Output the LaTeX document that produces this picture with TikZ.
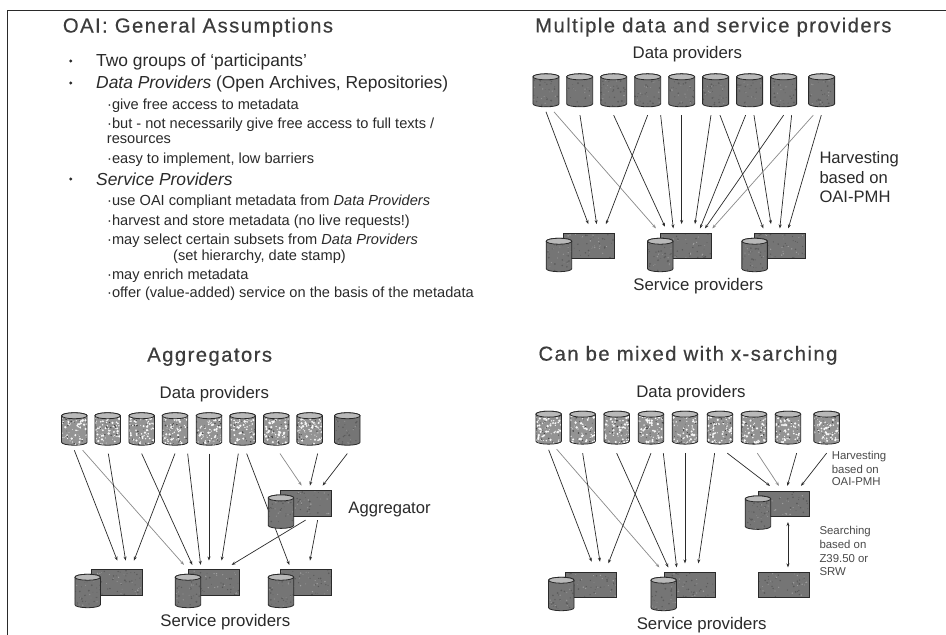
\documentclass[tikz,border=0pt]{standalone}
\usepackage{fontspec}
\setmainfont{Liberation Sans}
\newfontfamily\ttlfont[LetterSpace=7,FakeBold=0.4]{Liberation Sans}
\usetikzlibrary{arrows.meta,backgrounds,calc}
\definecolor{ink}{HTML}{2A2A2A}
\definecolor{ttlink}{HTML}{3C3C3C}
\pgfmathsetseed{4242}
\newcommand{\mottle}[6]{% centre, count, colour, half-w, half-h, max radius
  \foreach \i in {1,...,#2}{%
    \pgfmathsetmacro{\mx}{(rand)*#4}%
    \pgfmathsetmacro{\my}{(rand)*#5}%
    \pgfmathsetmacro{\mr}{0.35+rnd*#6}%
    \fill[#3] ([shift={(\mx pt,\my pt)}]#1) circle[radius=\mr pt];
  }%
}
% cylinder: name, cx, cy, width, height, kind (0 plain, 1 speckled)
\newcommand{\dbcyl}[6]{%
  \node[cylanchor,minimum width=#4pt,minimum height=#5pt] (#1) at (#2,#3) {};
  \pgfmathsetmacro{\rxx}{#4/2}%
  \def\bodypath{([yshift=-3pt]#1.north west) -- ([yshift=3pt]#1.south west)
     arc[start angle=180,end angle=360,x radius=\rxx pt,y radius=3pt]
     -- ([yshift=-3pt]#1.north east)
     arc[start angle=0,end angle=180,x radius=\rxx pt,y radius=3pt] -- cycle}%
  \ifnum#6=1 \fill[gray!85!white] \bodypath; \else \fill[gray!92!black] \bodypath; \fi
  \begin{scope}
    \clip \bodypath;
    \ifnum#6=1
      \mottle{#1.center}{75}{white!94!gray}{\rxx}{#5/2}{1.0}
      \mottle{#1.center}{22}{gray!55!black}{\rxx}{#5/2}{.6}
    \else
      \mottle{#1.center}{28}{gray!72!black}{\rxx}{#5/2}{.7}
      \mottle{#1.center}{14}{gray!85!white}{\rxx}{#5/2}{.5}
    \fi
  \end{scope}
  \draw[cylline] \bodypath;
  \draw[cylline,fill=gray!55!white] ([yshift=-3pt]#1.north) ellipse[x radius=\rxx pt,y radius=3pt];
}
\tikzset{
  ttl/.style={anchor=base,inner sep=0pt,text=ttlink,font=\ttlfont\fontsize{20.3}{20}\selectfont},
  ttlw/.style={anchor=base west,inner sep=0pt,text=ttlink,font=\ttlfont\fontsize{20.3}{20}\selectfont},
  lbl/.style={anchor=base,inner sep=0pt,text=ink,font=\fontsize{16.8}{18}\selectfont},
  lblw/.style={anchor=base west,inner sep=0pt,text=ink,font=\fontsize{16.6}{18}\selectfont},
  small/.style={anchor=base west,inner sep=0pt,text=ink!85!white,font=\fontsize{11.4}{13}\selectfont},
  bul/.style={anchor=base west,inner sep=0pt,text=ink,font=\fontsize{17.4}{18}\selectfont},
  sub/.style={anchor=base west,inner sep=0pt,text=ink,font=\fontsize{14.6}{16}\selectfont},
  dot/.style={circle,fill=ink,inner sep=0pt,minimum size=3.2pt},
  arr/.style={draw=ink,line width=.7pt,-{Stealth[length=4pt,width=3pt]}},
  arrl/.style={draw=ink!55!white,line width=.7pt,-{Stealth[length=4pt,width=3pt]}},
  arrd/.style={draw=ink,line width=.7pt,{Stealth[length=4pt,width=3pt]}-{Stealth[length=4pt,width=3pt]}},
  cylanchor/.style={inner sep=0pt,outer sep=0pt,rectangle},
  cylline/.style={draw=ink,line width=.8pt},
  srv/.style={draw=ink,line width=.8pt,fill=gray!92!black,inner sep=0pt,outer sep=0pt,
    minimum width=51pt,minimum height=25.5pt,
    path picture={\mottle{path picture bounding box.center}{30}{gray!70!black}{25}{12}{.6}\mottle{path picture bounding box.center}{20}{gray!75!white}{25}{12}{.5}}},
}
\begin{document}
\begin{tikzpicture}[x=1pt,y=-1pt]
\useasboundingbox (0,0) rectangle (946,635);
\begin{scope}[on background layer]\fill[white] (0,0) rectangle (946,635);\end{scope}
% page frame
\draw[ink,line width=.9pt] (7.5,635) -- (7.5,10.5) -- (946,10.5);

% ---------- panel 1
\node[ttlw] (t1) at (62.7,32.5) {OAI: General Assumptions};
\node[dot] (b1) at (70.7,61) {};
\node[dot] (b2) at (70.7,83) {};
\node[dot] (b3) at (70.7,179) {};
\node[bul] (p1) at (96,66) {Two groups of ‘participants’};
\node[bul] (p2) at (96,88.3) {\textit{Data Providers} (Open Archives, Repositories)};
\node[sub] (p3) at (107,109.3) {·give free access to metadata};
\node[sub] (p4) at (107,128.3) {·but - not necessarily give free access to full texts /};
\node[sub] (p5) at (106.7,143.3) {resources};
\node[sub] (p6) at (107,163.3) {·easy to implement, low barriers};
\node[bul] (p7) at (96,185) {\textit{Service Providers}};
\node[sub] (p8) at (107,205.7) {·use OAI compliant metadata from \textit{Data Providers}};
\node[sub] (p9) at (107,225) {·harvest and store metadata (no live requests!)};
\node[sub] (p10) at (107,244) {·may select certain subsets from \textit{Data Providers}};
\node[sub] (p11) at (173,260) {(set hierarchy, date stamp)};
\node[sub] (p12) at (107,279) {·may enrich metadata};
\node[sub] (p13) at (107,297.7) {·offer (value-added) service on the basis of the metadata};

% ---------- panel 2
\begin{scope}[shift={(480,0)},x=.3333pt,y=-.3333pt]
\node[ttlw] (t2) at (165,97) {Multiple data and service providers};
\node[lbl] (dl2) at (622,175) {Data providers};
\node[lbl] (sl2) at (655,873) {Service providers};
\node[lblw] (h21) at (1018,490) {Harvesting};
\node[lblw] (h22) at (1018,552) {based on};
\node[lblw] (h23) at (1018,608) {OAI-PMH};
\foreach \n/\cx in {a1/198,a2/299,a3/401,a4/503,a5/605,a6/707,a7/809,a8/911,a9/1025}
  {\dbcyl{\n}{\cx}{271}{26}{33}{0}}
\node[srv] (as1) at (326.5,738.5) {};
\node[srv] (as2) at (619,738.5) {};
\node[srv] (as3) at (899.5,738.5) {};
\dbcyl{ac1}{237}{765}{25.5}{33.5}{0}
\dbcyl{ac2}{541}{765}{25.5}{33.5}{0}
\dbcyl{ac3}{824}{765}{25.5}{33.5}{0}
\begin{scope}[on background layer]
\draw[arr] ([shift={(0,15)}]a1.south) -- ([shift={(-1.5,-28)}]as1.north);
\draw[arrl] ([shift={(24,15)}]a1.south) -- ([shift={(-91,-15)}]as2.north);
\draw[arr] ([shift={(1,25)}]a2.south) -- ([shift={(23.5,-28)}]as1.north);
\draw[arr] ([shift={(0,25)}]a3.south) -- ([shift={(-64,-20)}]as2.north);
\draw[arr] ([shift={(0,25)}]a4.south) -- ([shift={(51.5,-28)}]as1.north);
\draw[arr] ([shift={(39,25)}]a4.south) -- ([shift={(-39,-15)}]as2.north);
\draw[arr] ([shift={(0,25)}]a5.south) -- ([shift={(-14,-28)}]as2.north);
\draw[arr] ([shift={(-14,25)}]a6.south) -- ([shift={(26,-28)}]as2.north);
\draw[arr] ([shift={(13,25)}]a6.south) -- ([shift={(-49.5,-15)}]as3.north);
\draw[arr] ([shift={(-12,25)}]a7.south) -- ([shift={(41,-15)}]as2.north);
\draw[arr] ([shift={(13,25)}]a7.south) -- ([shift={(-26.5,-28)}]as3.north);
\draw[arr] ([shift={(0,25)}]a8.south) -- ([shift={(56,-15)}]as2.north);
\draw[arr] ([shift={(24,25)}]a8.south) -- ([shift={(0,-15)}]as3.north);
\draw[arrl] ([shift={(-25,25)}]a9.south) -- ([shift={(78,-15)}]as2.north);
\draw[arr] ([shift={(-1,25)}]a9.south) -- ([shift={(25.5,-15)}]as3.north);
\end{scope}
\end{scope}

% ---------- panel 3
\begin{scope}[shift={(0,320)},x=.3333pt,y=-.3333pt]
\node[ttl] (t3) at (629,125) {Aggregators};
\node[lbl] (dl3) at (643,236) {Data providers};
\node[lbl] (sl3) at (676,920) {Service providers};
\node[lblw] (ag3) at (1045,582) {Aggregator};
\foreach \n/\cx in {b1/223,b2/323,b3/425,b4/525,b5/627,b6/728,b7/829,b8/929}
  {\dbcyl{\n}{\cx}{327}{25.5}{32.5}{1}}
\dbcyl{b9}{1042}{327}{25.5}{32.5}{0}
\node[srv] (bg) at (917.5,550) {};
\dbcyl{bgc}{843}{575}{25.5}{33.5}{0}
\node[srv] (bs1) at (351,788) {};
\node[srv] (bs2) at (641,788) {};
\node[srv] (bs3) at (918,788) {};
\dbcyl{bc1}{263}{813}{25.5}{33.5}{0}
\dbcyl{bc2}{564}{813}{25.5}{33.5}{0}
\dbcyl{bc3}{843}{813}{25.5}{33.5}{0}
\begin{scope}[on background layer]
\draw[arr] ([shift={(0,15)}]b1.south) -- ([shift={(1,-28)}]bs1.north);
\draw[arrl] ([shift={(25,15)}]b1.south) -- ([shift={(-89,-15)}]bs2.north);
\draw[arr] ([shift={(2,25)}]b2.south) -- ([shift={(26,-28)}]bs1.north);
\draw[arr] ([shift={(0,25)}]b3.south) -- ([shift={(-64,-15)}]bs2.north);
\draw[arr] ([shift={(0,25)}]b4.south) -- ([shift={(51,-28)}]bs1.north);
\draw[arr] ([shift={(38,25)}]b4.south) -- ([shift={(-39,-15)}]bs2.north);
\draw[arr] ([shift={(0,25)}]b5.south) -- ([shift={(-14,-28)}]bs2.north);
\draw[arr] ([shift={(-13,25)}]b6.south) -- ([shift={(24,-28)}]bs2.north);
\draw[arr] ([shift={(12,25)}]b6.south) -- ([shift={(-50,-15)}]bs3.north);
\draw[arrl] ([shift={(11,25)}]b7.south) -- ([shift={(-12.5,-15)}]bg.north);
\draw[arr] ([shift={(24,25)}]b8.south) -- ([shift={(12.5,-15)}]bg.north);
\draw[arr] ([shift={(0,25)}]b9.south) -- ([shift={(50.5,-15)}]bg.north);
\draw[arr] ([shift={(-0.5,12)}]bg.south) -- ([shift={(54,-15)}]bs2.north);
\draw[arr] ([shift={(35.5,12)}]bg.south) -- ([shift={(12,-28)}]bs3.north);
\end{scope}
\end{scope}

% ---------- panel 4
\begin{scope}[shift={(480,320)},x=.3333pt,y=-.3333pt]
\node[ttl] (t4) at (624,122) {Can be mixed with x-sarching};
\node[lbl] (dl4) at (633,232) {Data providers};
\node[lbl] (sl4) at (665,930) {Service providers};
\node[small] (h41) at (1055,418) {Harvesting};
\node[small] (h42) at (1055,460) {based on};
\node[small] (h43) at (1055,498) {OAI-PMH};
\node[small] (s41) at (1018,645) {Searching};
\node[small] (s42) at (1018,687) {based on};
\node[small] (s43) at (1018,727) {Z39.50 or};
\node[small] (s44) at (1018,767) {SRW};
\foreach \n/\cx in {c1/206,c2/308,c3/410,c4/513,c5/615,c6/720,c7/822,c8/924,c9/1040}
  {\dbcyl{\n}{\cx}{323}{25.5}{33}{1}}
\node[srv] (cg) at (912,552) {};
\dbcyl{cgc}{834}{578}{25.5}{33.5}{0}
\node[srv] (cs1) at (333.5,795.5) {};
\node[srv] (cs2) at (630,795.5) {};
\node[srv] (cs3) at (912,795.5) {};
\dbcyl{cc1}{244}{822}{25.5}{33.5}{0}
\dbcyl{cc2}{551}{822}{25.5}{33.5}{0}
\begin{scope}[on background layer]
\draw[arr] ([shift={(0,17)}]c1.south) -- ([shift={(1.5,-32)}]cs1.north);
\draw[arrl] ([shift={(24,15)}]c1.south) -- ([shift={(-92,-15)}]cs2.north);
\draw[arr] ([shift={(0,27)}]c2.south) -- ([shift={(26.5,-32)}]cs1.north);
\draw[arr] ([shift={(0,27)}]c3.south) -- ([shift={(-65,-15)}]cs2.north);
\draw[arr] ([shift={(0,27)}]c4.south) -- ([shift={(51.5,-27)}]cs1.north);
\draw[arr] ([shift={(37,27)}]c4.south) -- ([shift={(-40,-15)}]cs2.north);
\draw[arr] ([shift={(0,27)}]c5.south) -- ([shift={(-15,-27)}]cs2.north);
\draw[arr] ([shift={(-16,27)}]c6.south) -- ([shift={(25,-27)}]cs2.north);
\draw[arr] ([shift={(22,27)}]c6.south) -- ([shift={(-42,-16)}]cg.north);
\draw[arrl] ([shift={(10,27)}]c7.south) -- ([shift={(-15,-16)}]cg.north);
\draw[arr] ([shift={(26,27)}]c8.south) -- ([shift={(10,-16)}]cg.north);
\draw[arr] ([shift={(0,27)}]c9.south) -- ([shift={(51,-16)}]cg.north);
\draw[arrd] ([shift={(12,16)}]cg.south) -- ([shift={(12,-15)}]cs3.north);
\end{scope}
\end{scope}
\end{tikzpicture}
\end{document}
